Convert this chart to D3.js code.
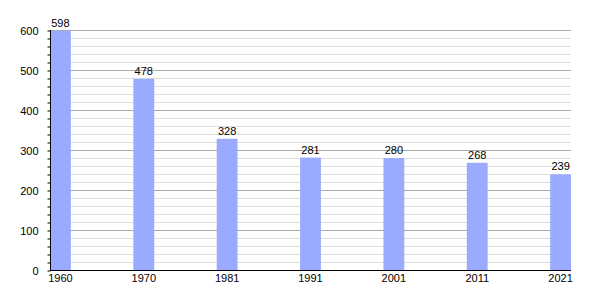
<!DOCTYPE html>
<html><head><meta charset="utf-8">
<script src="https://cdn.jsdelivr.net/npm/d3@7"></script>
<style>body{margin:0;background:#fff}svg{display:block}text{font-family:"Liberation Sans",Arial,sans-serif;font-size:11px;fill:#000}</style>
</head><body><svg id="c" width="600" height="300"></svg>
<script>
const years = ["1960","1970","1981","1991","2001","2011","2021"];
const population = [598,478,328,281,280,268,239];
const yTicks = [0,100,200,300,400,500,600];

(function(){
const svg = d3.select("#c");
const mLeft = 50, mRight = 571, mTop = 30, mBottom = 270;
const step = (mRight - mLeft) / (years.length - 1 + 0.25);
const x = d3.scaleBand().domain(years).range([mLeft, mLeft + step * years.length]).padding(0);
const bw = x.bandwidth() * 0.25;
const y = d3.scaleLinear().domain([0, 600]).range([mBottom, mTop]);

const minor = d3.range(0, 601, 20).filter(v => v % 100 !== 0);
svg.append("g").selectAll("line").data(minor).join("line")
  .attr("x1", mLeft).attr("x2", mRight).attr("y1", d => y(d) + 0.5).attr("y2", d => y(d) + 0.5)
  .attr("stroke", "#dddddd").attr("stroke-width", 1);
svg.append("g").selectAll("line").data(yTicks.filter(v => v > 0)).join("line")
  .attr("x1", mLeft).attr("x2", mRight).attr("y1", d => y(d) + 0.5).attr("y2", d => y(d) + 0.5)
  .attr("stroke", "#aaaaaa").attr("stroke-width", 1);

svg.append("g").selectAll("rect").data(population).join("rect")
  .attr("x", (d, i) => x(years[i])).attr("width", bw)
  .attr("y", d => y(d)).attr("height", d => mBottom - y(d))
  .attr("fill", "#99aaff");

svg.append("g").selectAll("text").data(population).join("text")
  .attr("x", (d, i) => x(years[i]) + bw / 2).attr("y", d => y(d) - 4)
  .attr("text-anchor", "middle").text(d => d);

const yAxis = d3.axisLeft(y).tickValues(d3.range(0, 601, 20)).tickSize(3)
  .tickFormat(d => yTicks.includes(d) ? d : "");
const gy = svg.append("g").attr("transform", `translate(${mLeft + 0.5},0.5)`).call(yAxis);
gy.select(".domain").remove();
gy.selectAll(".tick line").attr("stroke", "#000");
gy.selectAll(".tick text").attr("x", -12).attr("dy", "0.35em").style("font-family", "Liberation Sans, Arial, sans-serif").style("font-size", "11px");
svg.append("line").attr("x1", mLeft + 0.5).attr("x2", mLeft + 0.5).attr("y1", mTop).attr("y2", mBottom).attr("stroke", "#000");
svg.append("line").attr("x1", mLeft).attr("x2", mRight).attr("y1", mBottom + 0.5).attr("y2", mBottom + 0.5).attr("stroke", "#000");

svg.append("g").selectAll("text").data(years).join("text")
  .attr("x", d => x(d) + bw / 2).attr("y", mBottom + 12)
  .attr("text-anchor", "middle").text(d => d);
})();
</script></body></html>
